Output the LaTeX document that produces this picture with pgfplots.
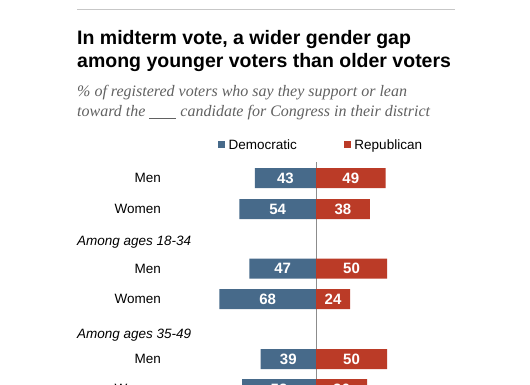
\documentclass[border=0pt]{standalone}
\usepackage{pgfplots}
\pgfplotsset{compat=1.18}
\usepackage{pgfplotstable}
\usepackage{fontspec}
\setmainfont{Liberation Sans}
\newfontfamily\serifit{Liberation Serif}
\definecolor{dem}{HTML}{476A8A}
\definecolor{rep}{HTML}{BB3B27}

\pgfplotstableread{
y dem rep
178 43 49
209 54 38
268.5 47 50
299 68 24
359 39 50
389 52 36
}\votes

\begin{document}
\begin{tikzpicture}
\begin{axis}[
  at={(0,0)}, anchor=south west,
  scale only axis, width=530pt, height=385pt,
  xmin=-222.535, xmax=150.704, ymin=0, ymax=385, y dir=reverse,
  hide axis, clip=false,
  xbar, bar width=20pt, bar shift=0pt,
  /pgf/number format/assume math mode=true,
  nodes near coords, point meta=explicit,
  every node near coord/.append style={font=\bfseries\fontsize{15}{15}\selectfont, text=white, anchor=center},
  legend columns=2,
  legend style={at={(axis cs:-69,145)}, anchor=west, draw=none, fill=none,
    inner sep=0pt, font=\fontsize{13.5}{14}\selectfont,
    /tikz/every even column/.append style={column sep=45pt}},
  legend image code/.code={\fill[#1] (0pt,-3.5pt) rectangle (7pt,3.5pt);},
]
\draw[black!45, line width=0.9pt] (axis cs:0,162) -- (axis cs:0,385);
\addplot[draw=none, fill=dem, visualization depends on={\thisrow{dem} \as \val},
  every node near coord/.append style={xshift={0.71*\val}}]
  table[x expr=-\thisrow{dem}, y=y, meta=dem] {\votes};
\addlegendentry{\hspace{1.5pt}Democratic}
\addplot[draw=none, fill=rep, visualization depends on={\thisrow{rep} \as \val},
  every node near coord/.append style={xshift={-0.71*\val}}]
  table[x=rep, y=y, meta=rep] {\votes};
\addlegendentry{\hspace{1.5pt}Republican}
\coordinate (O) at (axis cs:-222.535,0);
\end{axis}
\begin{scope}[shift={(O)}, x=1pt, y=-1pt]
\draw[black!22, line width=1pt] (77,10) -- (455,10);
\node[anchor=base west, inner sep=0pt, font=\bfseries\fontsize{19.5}{23}\selectfont] at (77,45) {In midterm vote, a wider gender gap};
\node[anchor=base west, inner sep=0pt, font=\bfseries\fontsize{19.5}{23}\selectfont] at (77,68) {among younger voters than older voters};
\node[anchor=base west, inner sep=0pt, text=black!62, font=\serifit\itshape\fontsize{16}{20}\selectfont] at (77,97) {\% of registered voters who say they support or lean};
\node[anchor=base west, inner sep=0pt, text=black!62, font=\serifit\itshape\fontsize{16}{20}\selectfont] at (77,117) {toward the \rule[-1.5pt]{27pt}{0.5pt} candidate for Congress in their district};
\foreach \yy/\tt in {178/Men, 209/Women, 268.5/Men, 299/Women, 359/Men, 389/Women}
  \node[anchor=east, inner sep=0pt, font=\fontsize{13.5}{14}\selectfont] at (161,\yy) {\tt};
\node[anchor=west, inner sep=0pt, font=\itshape\fontsize{13.5}{14}\selectfont] at (77,242) {Among ages 18-34};
\node[anchor=west, inner sep=0pt, font=\itshape\fontsize{13.5}{14}\selectfont] at (77,335) {Among ages 35-49};
\pgfresetboundingbox
\path[use as bounding box] (0,0) rectangle (530,385);
\end{scope}
\end{tikzpicture}
\end{document}
